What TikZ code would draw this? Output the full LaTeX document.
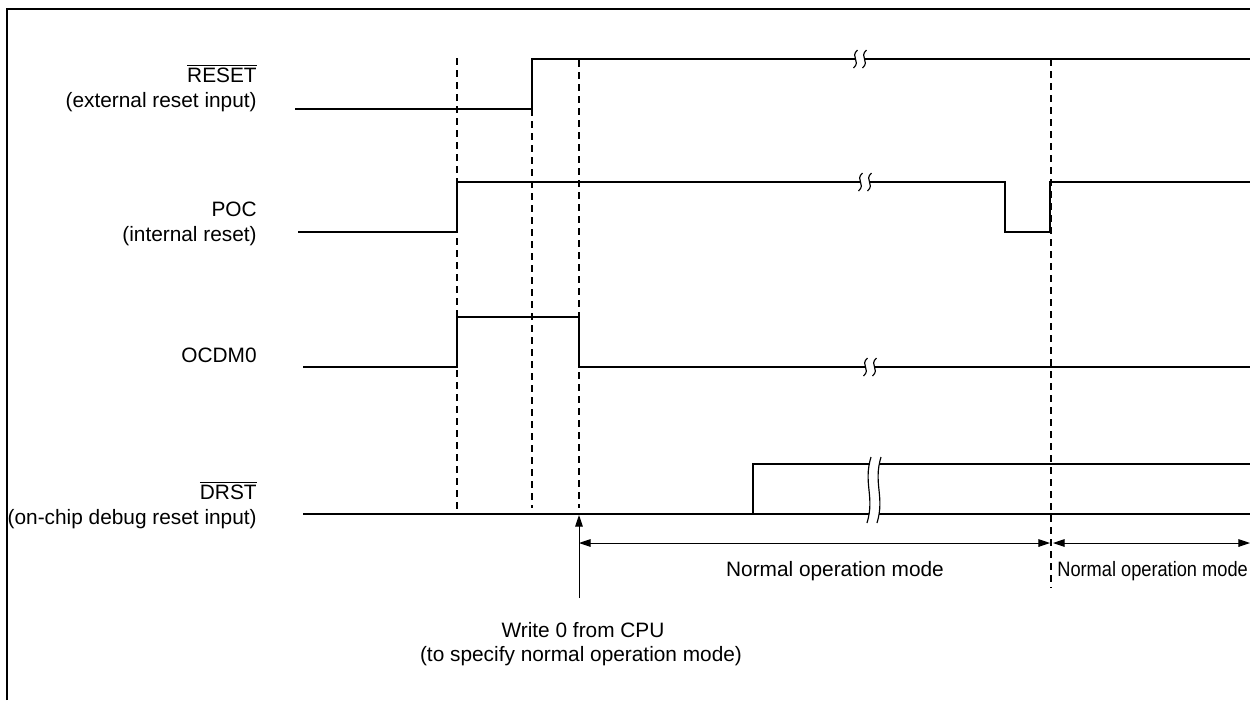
\documentclass[tikz,border=0pt]{standalone}
\usepackage{fontspec}
\setmainfont{Liberation Sans}
\usetikzlibrary{arrows.meta}
\newcommand{\tbrk}[4]{% cx, cy, half-height, gap
  \fill[white] ({#1-#4/2+2},{#2-#3}) .. controls ({#1-#4/2-6},{#2-0.2*#3}) and ({#1-#4/2+6},{#2+0.2*#3}) .. ({#1-#4/2-2},{#2+#3})
     -- ({#1+#4/2-2},{#2+#3}) .. controls ({#1+#4/2+6},{#2+0.2*#3}) and ({#1+#4/2-6},{#2-0.2*#3}) .. ({#1+#4/2+2},{#2-#3}) -- cycle;
  \draw[brkline] ({#1-#4/2+2},{#2-#3}) .. controls ({#1-#4/2-6},{#2-0.2*#3}) and ({#1-#4/2+6},{#2+0.2*#3}) .. ({#1-#4/2-2},{#2+#3});
  \draw[brkline] ({#1+#4/2+2},{#2-#3}) .. controls ({#1+#4/2-6},{#2-0.2*#3}) and ({#1+#4/2+6},{#2+0.2*#3}) .. ({#1+#4/2-2},{#2+#3});
}
\begin{document}
\begin{tikzpicture}[x=0.6pt,y=-0.6pt,
  sig/.style={line width=1.75pt, line join=miter},
  guide/.style={line width=0.8pt, dash pattern=on 4.2pt off 3pt},
  brkline/.style={line width=0.7pt},
  dim/.style={line width=0.6pt, {Triangle[length=7pt,width=4.6pt]}-{Triangle[length=7pt,width=4.6pt]}},
  lbl/.style={inner sep=0pt, font=\fontsize{12.5}{15}\selectfont},
  frame/.style={line width=1.5pt}]
\useasboundingbox (0,0) rectangle (1250,700);
\fill[white] (0,0) rectangle (1250,700);
% frame
\draw[frame] (7,700) -- (7,9) -- (1250,9);

% labels
\node[lbl, anchor=base east] (lreset) at (257,82) {$\overline{\mbox{RESET}}$};
\node[lbl, anchor=base east] (lresetd) at (257,107) {(external reset input)};
\node[lbl, anchor=base east] (lpoc) at (257,216) {POC};
\node[lbl, anchor=base east] (lpocd) at (257,241) {(internal reset)};
\node[lbl, anchor=base east] (locd) at (257,362) {OCDM0};
\node[lbl, anchor=base east] (ldrst) at (257,499) {$\overline{\mbox{DRST}}$};
\node[lbl, anchor=base east] (ldrstd) at (257,524) {(on-chip debug reset input)};

% guide dashed lines
\draw[guide] (457,58) -- (457,513);
\draw[guide] (532,109) -- (532,508);
\draw[guide] (579,60) -- (579,508);
\draw[guide] (1051,59) -- (1051,588);

% waveforms
\draw[sig] (295,109) -- (532,109) -- (532,59) -- (1250,59);
\draw[sig] (298,232) -- (457,232) -- (457,182) -- (1005,182) -- (1005,232) -- (1050,232) -- (1050,182) -- (1250,182);
\draw[sig] (303,367) -- (457,367) -- (457,317) -- (579,317) -- (579,367) -- (1250,367);
\draw[sig] (303,514) -- (1250,514);
\draw[sig] (753,514) -- (753,464) -- (1250,464);

% breaks
\tbrk{860}{59}{9}{9}
\tbrk{865}{182}{9}{9}
\tbrk{870}{367}{9}{9}
\tbrk{874}{490}{33}{10}

% write arrow
\coordinate (wbot) at (579,598);
\coordinate (wtop) at (579,515);
\draw[line width=0.6pt, -{Triangle[length=7pt,width=4.6pt]}] (wbot) -- (wtop);

% dimension arrows
\coordinate (d1a) at (579,543);
\coordinate (d1b) at (1050,543);
\coordinate (d2a) at (1053,543);
\coordinate (d2b) at (1250,543);
\draw[dim] (d1a) -- (d1b);
\draw[dim] (d2a) -- (d2b);
\node[lbl, anchor=base] (nom1) at (835,576) {Normal operation mode};
\node[lbl, anchor=base west] (nom2) at (1057,576) {\scalebox{0.875}[1]{Normal operation mode}};

% write text
\node[lbl, anchor=base] (w1) at (583,637) {Write 0 from CPU};
\node[lbl, anchor=base] (w2) at (581,661) {(to specify normal operation mode)};
\end{tikzpicture}
\end{document}
